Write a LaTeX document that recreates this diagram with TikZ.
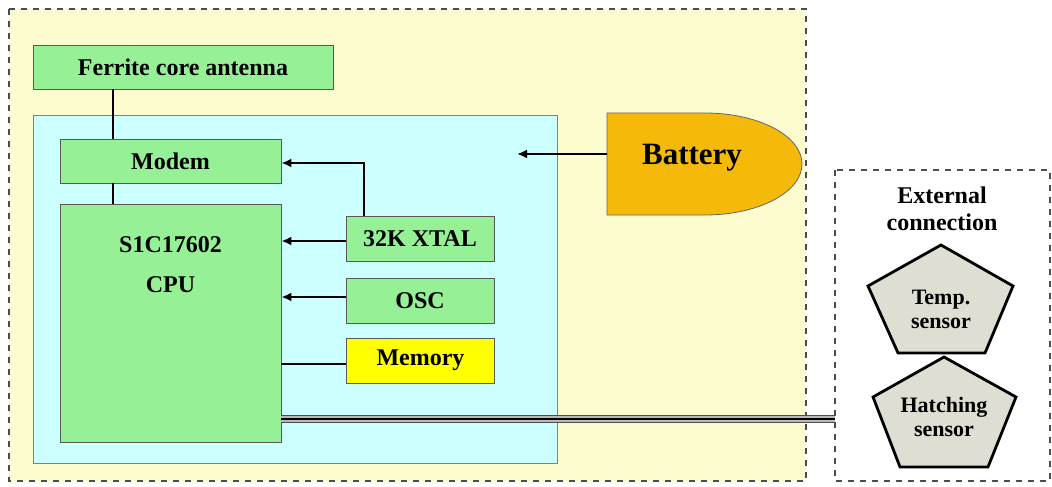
\documentclass[tikz,border=0pt]{standalone}
\usepackage{fontspec}
\setmainfont{Liberation Serif}
\usetikzlibrary{positioning,calc,arrows.meta}

\definecolor{bgyellow}{RGB}{252,252,206}
\definecolor{chipcyan}{RGB}{204,255,255}
\definecolor{blockgreen}{RGB}{150,240,150}
\definecolor{memyellow}{RGB}{255,255,0}
\definecolor{battorange}{RGB}{245,185,10}
\definecolor{sensorgray}{RGB}{222,222,210}

\begin{document}
\begin{tikzpicture}[x=0.5pt,y=-0.5pt,
    block/.style={draw=black!65,fill=blockgreen,inner sep=0pt,
        font=\bfseries\fontsize{12}{14}\selectfont},
    wire/.style={line width=1.1pt},
    feed/.style={line width=1.1pt,-{Latex[length=5pt,width=4.5pt]}},
    frame/.style={draw=black!70,dashed,line width=0.7pt},
    pentagon/.style={line width=1.4pt,fill=sensorgray},
    sensortext/.style={align=center,font=\bfseries\fontsize{11}{12}\selectfont}]
    \useasboundingbox (0,0) rectangle (1052,486);

    % frames
    \draw[frame,fill=bgyellow] (9,9) rectangle (806,481);
    \draw[frame,fill=white] (835,170) rectangle (1050,481);
    \draw[draw=black!50,fill=chipcyan] (33,115) rectangle (557,463);

    % blocks
    \node[block,minimum width=150pt,minimum height=22pt] (antenna) at (183,67) {Ferrite core antenna};
    \node[block,minimum width=110.5pt,minimum height=22pt] (modem) at (170.5,161) {Modem};
    \node[block,minimum width=110.5pt,minimum height=119pt] (cpu) at (170.5,323) {};
    \node[below=13pt of cpu.north,align=center,font=\bfseries\fontsize{12}{20}\selectfont] (cputext) {S1C17602\\CPU};
    \node[block,minimum width=74pt,minimum height=22.5pt] (xtal) at (420,238.5) {32K XTAL};
    \node[block,minimum width=74pt,minimum height=22.5pt] (osc) at (420,300.5) {OSC};
    \node[block,fill=memyellow,minimum width=74pt,minimum height=22.5pt] (memory) at (420.5,360.5) {Memory};

    % battery
    \draw[draw=black!60,fill=battorange] (607,113) -- (705,113)
        arc[start angle=-90,end angle=90,x radius=97,y radius=51] -- (607,215) -- cycle;
    \node[font=\bfseries\fontsize{15.5}{18}\selectfont] (battery) at (692,158) {Battery};
    \coordinate (batout) at (607,154);
    \coordinate (batin) at (517,154);
    \draw[feed] (batout) -- (batin);

    % connections
    \draw[wire] (antenna.south -| 113,0) -- (modem.north -| 113,0);
    \draw[wire] (modem.south -| 113,0) -- (cpu.north -| 113,0);
    \draw[feed] (xtal.north -| 364,0) |- ($(modem.east)+(0,2)$);
    \draw[feed] (xtal.west |- 0,241) -- (cpu.east |- 0,241);
    \draw[feed] (osc.west |- 0,297) -- (cpu.east |- 0,297);
    \draw[wire] (memory.west |- 0,364) -- (cpu.east |- 0,364);

    % external
    \node[align=center,font=\bfseries\fontsize{12}{13.5}\selectfont] (exttitle) at (942,209) {External\\connection};
    \coordinate (tempc) at (941,309);
    \coordinate (hatchc) at (944,417);
    \draw[pentagon] ($(tempc)+(0,-64)$) -- ($(tempc)+(72,-23)$) -- ($(tempc)+(44,44)$)
        -- ($(tempc)+(-43,44)$) -- ($(tempc)+(-73,-23)$) -- cycle;
    \draw[pentagon] ($(hatchc)+(0,-60)$) -- ($(hatchc)+(72,-20)$) -- ($(hatchc)+(44,50)$)
        -- ($(hatchc)+(-44,50)$) -- ($(hatchc)+(-71,-20)$) -- cycle;
    \node[sensortext] (temp) at (tempc) {Temp.\\sensor};
    \node[sensortext] (hatch) at (hatchc) {Hatching\\sensor};

    % bus
    \coordinate (busend) at (835,419);
    \draw[draw=black!70,double=gray!55,double distance=3.4pt,line width=0.5pt] (cpu.east |- busend) -- (busend);
    \draw[line width=0.8pt] (cpu.east |- busend) -- (busend);
\end{tikzpicture}
\end{document}
